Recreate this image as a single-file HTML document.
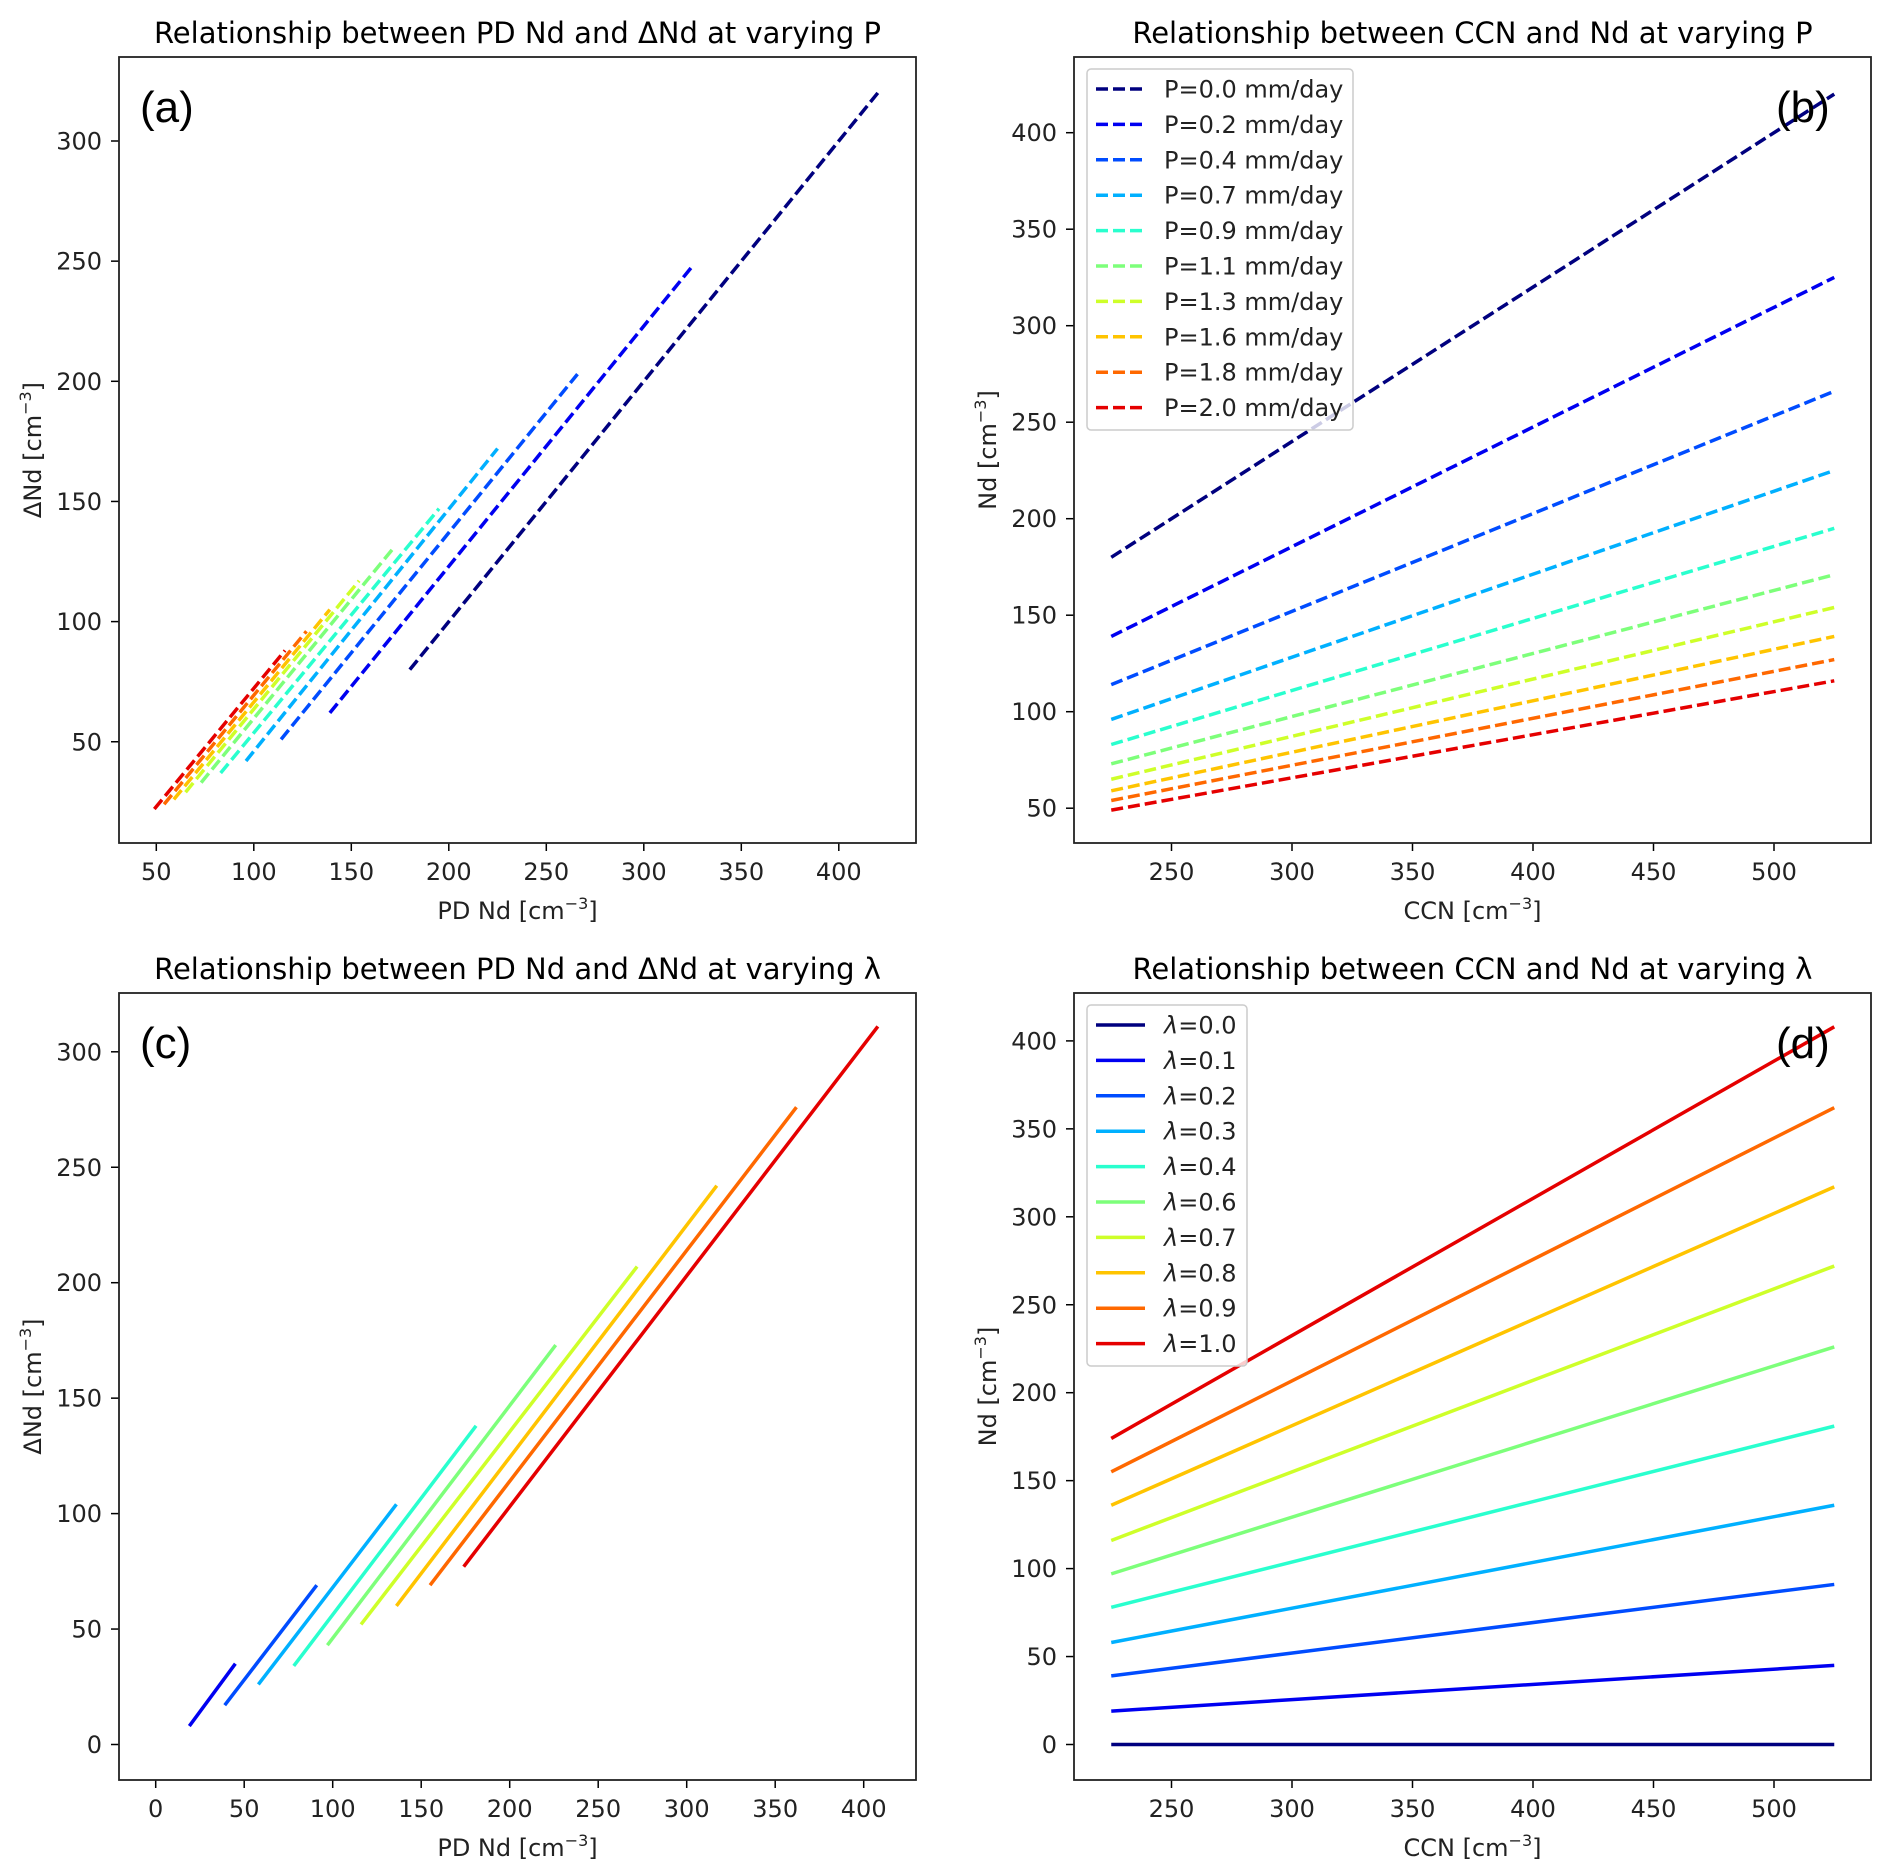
<!DOCTYPE html>
<html><head><meta charset="utf-8">
<style>
html,body{margin:0;padding:0;background:#fff;}
svg{display:block;font-family:"DejaVu Sans","Liberation Sans",sans-serif;}
</style></head>
<body>
<svg id="fig" width="1892" height="1875" viewBox="0 0 1892 1875" xmlns="http://www.w3.org/2000/svg"></svg>
<script>
// ---- data ----
const colors = ["#00007f","#0000f1","#004cff","#00b0ff","#29ffce","#7dff7a","#ceff29","#ffc400","#ff6800","#e50000"];
const pLabels = ["P=0.0 mm/day","P=0.2 mm/day","P=0.4 mm/day","P=0.7 mm/day","P=0.9 mm/day","P=1.1 mm/day","P=1.3 mm/day","P=1.6 mm/day","P=1.8 mm/day","P=2.0 mm/day"];
const lamLabels = ["0.0","0.1","0.2","0.3","0.4","0.6","0.7","0.8","0.9","1.0"];
const ccnRange = [225, 525];
// panel b: Nd at CCN start/end
const ndPStart = [180,139,114,96,83,73,65,59,54,49];
const ndPEnd = [420,325,266,225,195,171,154,139,127,116];
// panel a: dNd start/end (x is Nd from panel b)
const dNdPStart = [80,62,51,42,37,33,29,26,24,22];
const dNdPEnd = [320,248,203,172,147,130,117,105,96,88];
// panel d: Nd at CCN start/end
const ndLStart = [0,19,39,58,78,97,116,136,155,174];
const ndLEnd = [0,45,91,136,181,226,272,317,362,408];
// panel c: dNd start/end
const dNdLStart = [0,8,17,26,34,43,52,60,69,77];
const dNdLEnd = [0,35,69,104,138,173,207,242,276,311];
const ticksA_x = [50,100,150,200,250,300,350,400];
const ticksA_y = [50,100,150,200,250,300];
const ticksB_x = [250,300,350,400,450,500];
const ticksB_y = [50,100,150,200,250,300,350,400];
const ticksC_x = [0,50,100,150,200,250,300,350,400];
const ticksC_y = [0,50,100,150,200,250,300];
const ticksD_x = [250,300,350,400,450,500];
const ticksD_y = [0,50,100,150,200,250,300,350,400];

const NS="http://www.w3.org/2000/svg";
const svg=document.getElementById('fig');
function mk(tag,attrs,parent){const e=document.createElementNS(NS,tag);for(const k in attrs)e.setAttribute(k,attrs[k]);(parent||svg).appendChild(e);return e;}

const panels = [
 {id:'a',box:[119,57,916,843],sx:v=>156.3+(v-50)*1.95,sy:v=>141+(300-v)*2.403,tx:ticksA_x,ty:ticksA_y,
  title:'Relationship between PD Nd and ΔNd at varying P',xl:'PD Nd [cm',yl:'ΔNd [cm'},
 {id:'b',box:[1074,57,1871,843],sx:v=>1774+(v-500)*2.41,sy:v=>132.7+(400-v)*1.93,tx:ticksB_x,ty:ticksB_y,
  title:'Relationship between CCN and Nd at varying P',xl:'CCN [cm',yl:'Nd [cm'},
 {id:'c',box:[119,993,916,1780],sx:v=>155.7+v*1.77,sy:v=>1744.5-v*2.309,tx:ticksC_x,ty:ticksC_y,
  title:'Relationship between PD Nd and ΔNd at varying λ',xl:'PD Nd [cm',yl:'ΔNd [cm'},
 {id:'d',box:[1074,993,1871,1780],sx:v=>1774+(v-500)*2.41,sy:v=>1744.5-v*1.759,tx:ticksD_x,ty:ticksD_y,
  title:'Relationship between CCN and Nd at varying λ',xl:'CCN [cm',yl:'Nd [cm'}
];

panels.forEach(p=>{
  const g=mk('g',{});
  
  
  const [x0,y0,x1,y1]=p.box;
  const cx=(x0+x1)/2, cy=(y0+y1)/2;
  const t=mk('text',{x:cx,y:y0-14,'font-size':29,'text-anchor':'middle',fill:'#000'},g);
  t.textContent=p.title;
  
  
  p.tx.forEach(v=>{
    const X=p.sx(v);
    const l=mk('line',{x1:X,x2:X,y1:y1,y2:y1+8,stroke:'#000','stroke-width':1.5},g);
    
    
    const tt=mk('text',{x:X,y:y1+37,'font-size':24,'text-anchor':'middle',fill:'#222'},g);
    tt.textContent=v;
    
    
  });
  p.ty.forEach(v=>{
    const Y=p.sy(v);
    const l=mk('line',{x1:x0-8,x2:x0,y1:Y,y2:Y,stroke:'#000','stroke-width':1.5},g);
    
    
    const tt=mk('text',{x:x0-17,y:Y+8.5,'font-size':24,'text-anchor':'end',fill:'#222'},g);
    tt.textContent=v;
    
    
  });
  const xl=mk('text',{x:cx,y:y1+76,'font-size':24,'text-anchor':'middle',fill:'#222'},g);
  xl.innerHTML=p.xl+'<tspan dy="-10" font-size="16">−3</tspan><tspan dy="10">]</tspan>';
  
  
  const yx = p.id==='a'||p.id==='c' ? 41 : 996;
  const yl=mk('text',{x:yx,y:cy,'font-size':24,'text-anchor':'middle',fill:'#222',transform:'rotate(-90 '+yx+' '+cy+')'},g);
  yl.innerHTML=p.yl+'<tspan dy="-10" font-size="16">−3</tspan><tspan dy="10">]</tspan>';
  
  
  p.g=g;
});

function line(p,xa,ya,xb,yb,color,dashed,name){
  const l=mk('line',{x1:p.sx(xa),y1:p.sy(ya),x2:p.sx(xb),y2:p.sy(yb),stroke:color,'stroke-width':3.5},p.g);
  if(dashed)l.setAttribute('stroke-dasharray','12 5');
  
  
}
const [pa,pb,pc,pd]=panels;
for(let i=0;i<colors.length;i++){
  line(pa,ndPStart[i],dNdPStart[i],ndPEnd[i],dNdPEnd[i],colors[i],true,'series-a-'+i);
  line(pb,ccnRange[0],ndPStart[i],ccnRange[1],ndPEnd[i],colors[i],true,'series-b-'+i);
  if(ndLEnd[i]>0) line(pc,ndLStart[i],dNdLStart[i],ndLEnd[i],dNdLEnd[i],colors[i],false,'series-c-'+i);
  line(pd,ccnRange[0],ndLStart[i],ccnRange[1],ndLEnd[i],colors[i],false,'series-d-'+i);
}

function legend(p,x,y,w,h,labels,dashed,isLam){
  const g=mk('g',{},p.g);
  
  
  mk('rect',{x:x,y:y,width:w,height:h,rx:4,fill:'#fff','fill-opacity':0.8,stroke:'#ccc','stroke-width':1.5},g);
  labels.forEach((lb,i)=>{
    const Y=y+20+i*35.4;
    const l=mk('line',{x1:x+9,x2:x+58,y1:Y,y2:Y,stroke:colors[i],'stroke-width':3.5},g);
    if(dashed)l.setAttribute('stroke-dasharray','12 5');
    
    
    const t=mk('text',{x:x+77,y:Y+8.5,'font-size':24,fill:'#222'},g);
    if(isLam) t.innerHTML='<tspan font-style="italic">λ</tspan>='+lb; else t.textContent=lb;
    
    
  });
}
legend(pb,1087,69,266,361,pLabels,true,false);
legend(pd,1087,1005,160,361,lamLabels,false,true);

[['a',140,122],['b',1776,122],['c',140,1058],['d',1776,1058]].forEach(([k,x,y])=>{
  const t=mk('text',{x:x,y:y,'font-size':44,fill:'#000','font-family':'Liberation Sans, sans-serif'},panels['abcd'.indexOf(k)].g);
  t.textContent='('+k+')';
  
  
});
panels.forEach(p=>{
  const [x0,y0,x1,y1]=p.box;
  const r=mk('rect',{x:x0,y:y0,width:x1-x0,height:y1-y0,fill:'none',stroke:'#222','stroke-width':1.8},p.g);
  
  
});
</script>
</body></html>
